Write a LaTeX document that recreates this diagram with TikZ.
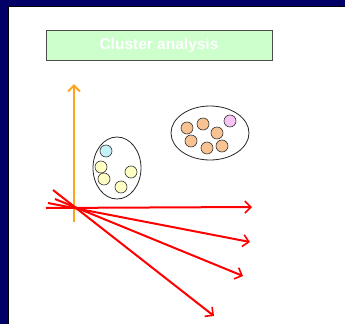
\documentclass[tikz,border=0pt]{standalone}
\usepackage{fontspec}
\setmainfont{Liberation Sans}
\usetikzlibrary{arrows.meta,shapes.geometric}
\definecolor{navy}{HTML}{000066}
\definecolor{boxgreen}{HTML}{CCFFCC}
\definecolor{dotcyan}{HTML}{C4F2F8}
\definecolor{dotyellow}{HTML}{FFFFC4}
\definecolor{dotorange}{HTML}{F9C293}
\definecolor{dotpink}{HTML}{F8C4F4}
\definecolor{axisorange}{HTML}{FFA31A}
\tikzset{
  dot/.style={circle, draw=black!80, line width=0.6pt, minimum size=12pt, inner sep=0pt},
  grp/.style={ellipse, draw=black!85, line width=0.8pt, inner sep=0pt},
  redarrow/.style={draw=red, line width=2pt, -{Straight Barb[length=6pt,width=12pt,line width=1.6pt]}},
}
\begin{document}
\begin{tikzpicture}[x=1pt,y=-1pt]
\useasboundingbox (0,0) rectangle (345,324);
\fill[navy] (0,0) rectangle (345,324);
\fill[white] (8,7) rectangle (345,324);
\draw[black, line width=0.8pt] (8,324) -- (8,6.5) -- (345,6.5);
% title box
\node[draw=black!70, fill=boxgreen, line width=0.8pt, minimum width=226pt, minimum height=30pt, inner sep=0pt,
  text=white, font=\bfseries\fontsize{15.5}{17}\selectfont] (title) at (159,45) {Cluster analysis};
% orange axis
\coordinate (ob) at (74,222);
\coordinate (ot) at (74,84);
\draw[axisorange, line width=2.5pt, -{Straight Barb[length=6pt,width=12pt,line width=2pt]}] (ob) -- (ot);
% red arrows
\coordinate (a0) at (46,208);
\coordinate (a1) at (252,207);
\coordinate (b0) at (48,203);
\coordinate (b1) at (250,242);
\coordinate (c0) at (55,199);
\coordinate (c1) at (243,276);
\coordinate (d0) at (53,190);
\coordinate (d1) at (214,316);
\draw[redarrow] (a0) -- (a1);
\draw[redarrow] (b0) -- (b1);
\draw[redarrow] (c0) -- (c1);
\draw[redarrow] (d0) -- (d1);
% clusters
\node[grp, minimum width=48pt, minimum height=62pt] (g1) at (117,168) {};
\node[grp, minimum width=78pt, minimum height=54pt] (g2) at (210,133) {};
\node[dot, fill=dotcyan] (p1) at (106,151) {};
\node[dot, fill=dotyellow] (p2) at (101,167) {};
\node[dot, fill=dotyellow] (p3) at (104,179) {};
\node[dot, fill=dotyellow] (p4) at (121,187) {};
\node[dot, fill=dotyellow] (p5) at (131,172) {};
\node[dot, fill=dotorange] (q1) at (187,128) {};
\node[dot, fill=dotorange] (q2) at (203,124) {};
\node[dot, fill=dotorange] (q3) at (217,133) {};
\node[dot, fill=dotorange] (q4) at (191,141) {};
\node[dot, fill=dotorange] (q5) at (207,148) {};
\node[dot, fill=dotorange] (q6) at (222,146) {};
\node[dot, fill=dotpink] (q7) at (230,121) {};
\end{tikzpicture}
\end{document}
